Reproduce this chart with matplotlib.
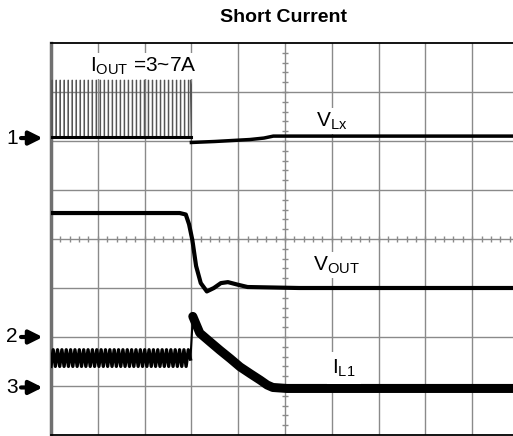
import numpy as np
import matplotlib
matplotlib.use('Agg')
import matplotlib.pyplot as plt

plt.rcParams['font.family'] = ['Liberation Sans', 'DejaVu Sans']
plt.rcParams['mathtext.fontset'] = 'custom'
plt.rcParams['mathtext.rm'] = 'Liberation Sans'
plt.rcParams['mathtext.it'] = 'Liberation Sans'

# screen is 10 x 8 divisions, short happens at t = 3 div
t_short = 3.0
t_end = 10.0

# V_Lx : switching before the short, flat after
vlx_pulses = 35
vlx_low = 6.08
vlx_high = 7.24
vlx_after_t = [3.0, 3.5, 4.25, 4.55, 4.75, 10.0]
vlx_after_v = [5.97, 5.99, 6.03, 6.06, 6.1, 6.1]

# V_OUT : drop with a small undershoot
vout_t = [0.0, 2.75, 2.88, 2.95, 3.02, 3.1, 3.2, 3.33, 3.48, 3.63, 3.78, 3.98, 4.2, 5.3, 10.0]
vout_v = [4.53, 4.53, 4.5, 4.3, 3.98, 3.45, 3.1, 2.93, 3.0, 3.1, 3.12, 3.07, 3.02, 3.0, 3.0]

# I_L1 : ripple before, spike and decay after
il1_cycles = 32
il1_low = 1.40
il1_high = 1.74
il1_t = [2.98, 3.03, 3.18, 3.4, 3.61, 3.83, 4.04, 4.26, 4.47, 4.62, 4.74, 5.04, 10.0]
il1_v = [1.55, 2.42, 2.08, 1.9, 1.73, 1.56, 1.39, 1.25, 1.12, 1.02, 0.97, 0.95, 0.95]

markers = [('1', 6.06), ('2', 2.0), ('3', 0.97)]

fig = plt.figure(figsize=(5.13, 4.36), dpi=100)
ax = fig.add_axes([51 / 513, 1 / 436, 468 / 513, 392 / 436])
ax.set_xlim(0, t_end)
ax.set_ylim(0, 8)
ax.set_xticks([])
ax.set_yticks([])

grid_c = '#8a8a8a'
for gx in range(1, 10):
    ax.axvline(gx, color=grid_c, lw=1.0, zorder=1)
for gy in range(1, 8):
    ax.axhline(gy, color=grid_c, lw=1.0, zorder=1)
# tick marks on the centre lines
tk = np.arange(0.2, 10, 0.2)
ax.plot(tk, np.full(tk.size, 4.0), ls='none', marker='|', ms=5, mew=1.0, color=grid_c, zorder=1)
tk = np.arange(0.2, 8, 0.2)
ax.plot(np.full(tk.size, 5.0), tk, ls='none', marker='_', ms=5, mew=1.0, color=grid_c, zorder=1)

# V_Lx switching
per = t_short / vlx_pulses
x_sw, y_sw = [], []
for k in range(vlx_pulses):
    t0 = k * per
    x_sw += [t0, t0 + 0.25 * per, t0 + 0.25 * per, t0 + 0.35 * per, t0 + 0.35 * per, t0 + per]
    y_sw += [vlx_low, vlx_low, vlx_high, vlx_high, vlx_low, vlx_low]
x_sw += [t_short - 0.02, t_short, t_short]
y_sw += [vlx_high, vlx_high - 0.1, vlx_after_v[0]]
ax.plot(x_sw, y_sw, color='#555555', lw=0.8, zorder=3)
ax.plot([0, t_short], [vlx_low, vlx_low], color='k', lw=2.2, zorder=4)
ax.plot(vlx_after_t, vlx_after_v, color='k', lw=2.5, zorder=4)

# V_OUT
ax.plot(vout_t, vout_v, color='k', lw=3.0, zorder=4)

# I_L1 ripple then decay
per = (t_short - 0.02) / il1_cycles
x_r, y_r = [], []
for k in range(il1_cycles):
    x_r += [k * per, (k + 0.5) * per]
    y_r += [il1_low, il1_high]
x_r.append(il1_t[0])
y_r.append(il1_v[0])
ax.plot(x_r, y_r, color='k', lw=2.4, zorder=4)
ax.plot(il1_t[:2], il1_v[:2], color='k', lw=1.5, zorder=4)
ax.plot(il1_t[1:], il1_v[1:], color='k', lw=6.5, solid_capstyle='round', solid_joinstyle='round', zorder=4)

# trace labels
box = dict(facecolor='white', edgecolor='none', pad=1.5)
ax.text(1.97, 7.53, r'$\mathregular{I_{OUT}}$ =3~7A', fontsize=15, ha='center', va='center', bbox=box, zorder=5)
ax.text(6.0, 6.41, r'$\mathregular{V_{Lx}}$', fontsize=15, ha='center', va='center', bbox=box, zorder=5)
ax.text(6.09, 3.47, r'$\mathregular{V_{OUT}}$', fontsize=15, ha='center', va='center', bbox=box, zorder=5)
ax.text(6.26, 1.37, r'$\mathregular{I_{L1}}$', fontsize=15, ha='center', va='center',
        bbox=dict(facecolor='white', edgecolor='none', pad=4), zorder=5)

# channel markers
for name, lvl in markers:
    ax.text(-0.83, lvl, name, fontsize=15, ha='center', va='center', clip_on=False)
    ax.annotate('', xy=(-0.12, lvl), xytext=(-0.7, lvl), annotation_clip=False,
                arrowprops=dict(arrowstyle='-|>', lw=3, color='k', mutation_scale=20))

for s in ['top', 'bottom']:
    ax.spines[s].set_color('k')
    ax.spines[s].set_linewidth(1.3)
ax.spines['left'].set_color('#707070')
ax.spines['left'].set_linewidth(2.5)

fig.text(283 / 513, 1 - 18 / 436, 'Short Current', fontsize=14, fontweight='bold', ha='center', va='center')

fig.savefig('out.png', dpi=100)
